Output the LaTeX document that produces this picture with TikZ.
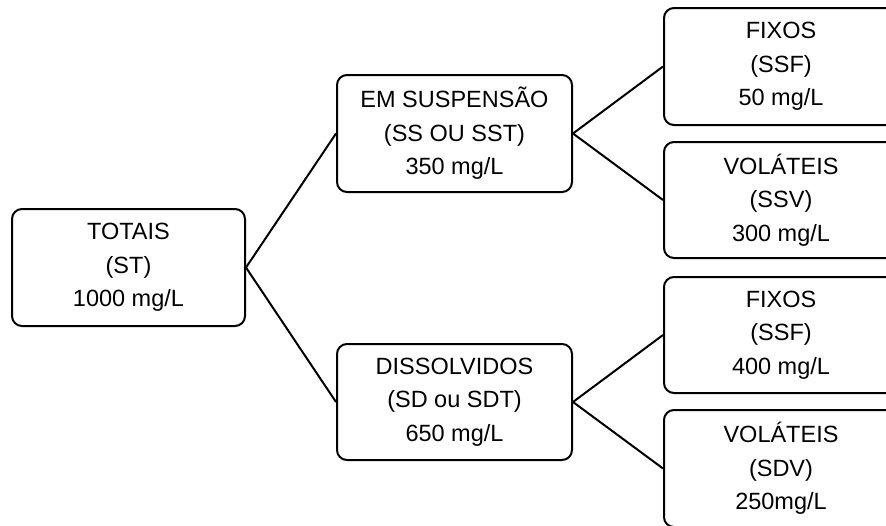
\documentclass[tikz,border=0pt]{standalone}
\usepackage{fontspec}
\setmainfont{Liberation Sans}
\begin{document}
\begin{tikzpicture}[x=1pt,y=-1pt,
  box/.style={draw=black, line width=2pt, rounded corners=10pt, fill=white,
    align=center, inner sep=0pt, font=\fontsize{23.5}{33.5}\selectfont},
  link/.style={draw=black, line width=2pt}]
  \useasboundingbox (0,0) rectangle (886,525);
  \clip (0,0) rectangle (886,525);
  % root
  \node[box, minimum width=233pt, minimum height=117pt] (tot) at (128.5,267.5)
    {TOTAIS\\(ST)\\1000 mg/L};
  % second level
  \node[box, minimum width=235pt, minimum height=117pt] (susp) at (454.5,133.5)
    {EM SUSPENS\~AO\\(SS OU SST)\\350 mg/L};
  \node[box, minimum width=235pt, minimum height=116pt] (diss) at (454.5,402)
    {DISSOLVIDOS\\(SD ou SDT)\\650 mg/L};
  % third level
  \node[box, minimum width=234pt, minimum height=117pt] (ssf) at (781,66.5)
    {FIXOS\\(SSF)\\50 mg/L};
  \node[box, minimum width=234pt, minimum height=116pt] (ssv) at (781,200)
    {VOL\'ATEIS\\(SSV)\\300 mg/L};
  \node[box, minimum width=234pt, minimum height=116pt] (sdf) at (781,335)
    {FIXOS\\(SSF)\\400 mg/L};
  \node[box, minimum width=234pt, minimum height=117pt] (sdv) at (781,468.5)
    {VOL\'ATEIS\\(SDV)\\250mg/L};
  % connectors
  \draw[link] (tot.east) -- (susp.west);
  \draw[link] (tot.east) -- (diss.west);
  \draw[link] (susp.east) -- (ssf.west);
  \draw[link] (susp.east) -- (ssv.west);
  \draw[link] (diss.east) -- (sdf.west);
  \draw[link] (diss.east) -- (sdv.west);
\end{tikzpicture}
\end{document}
